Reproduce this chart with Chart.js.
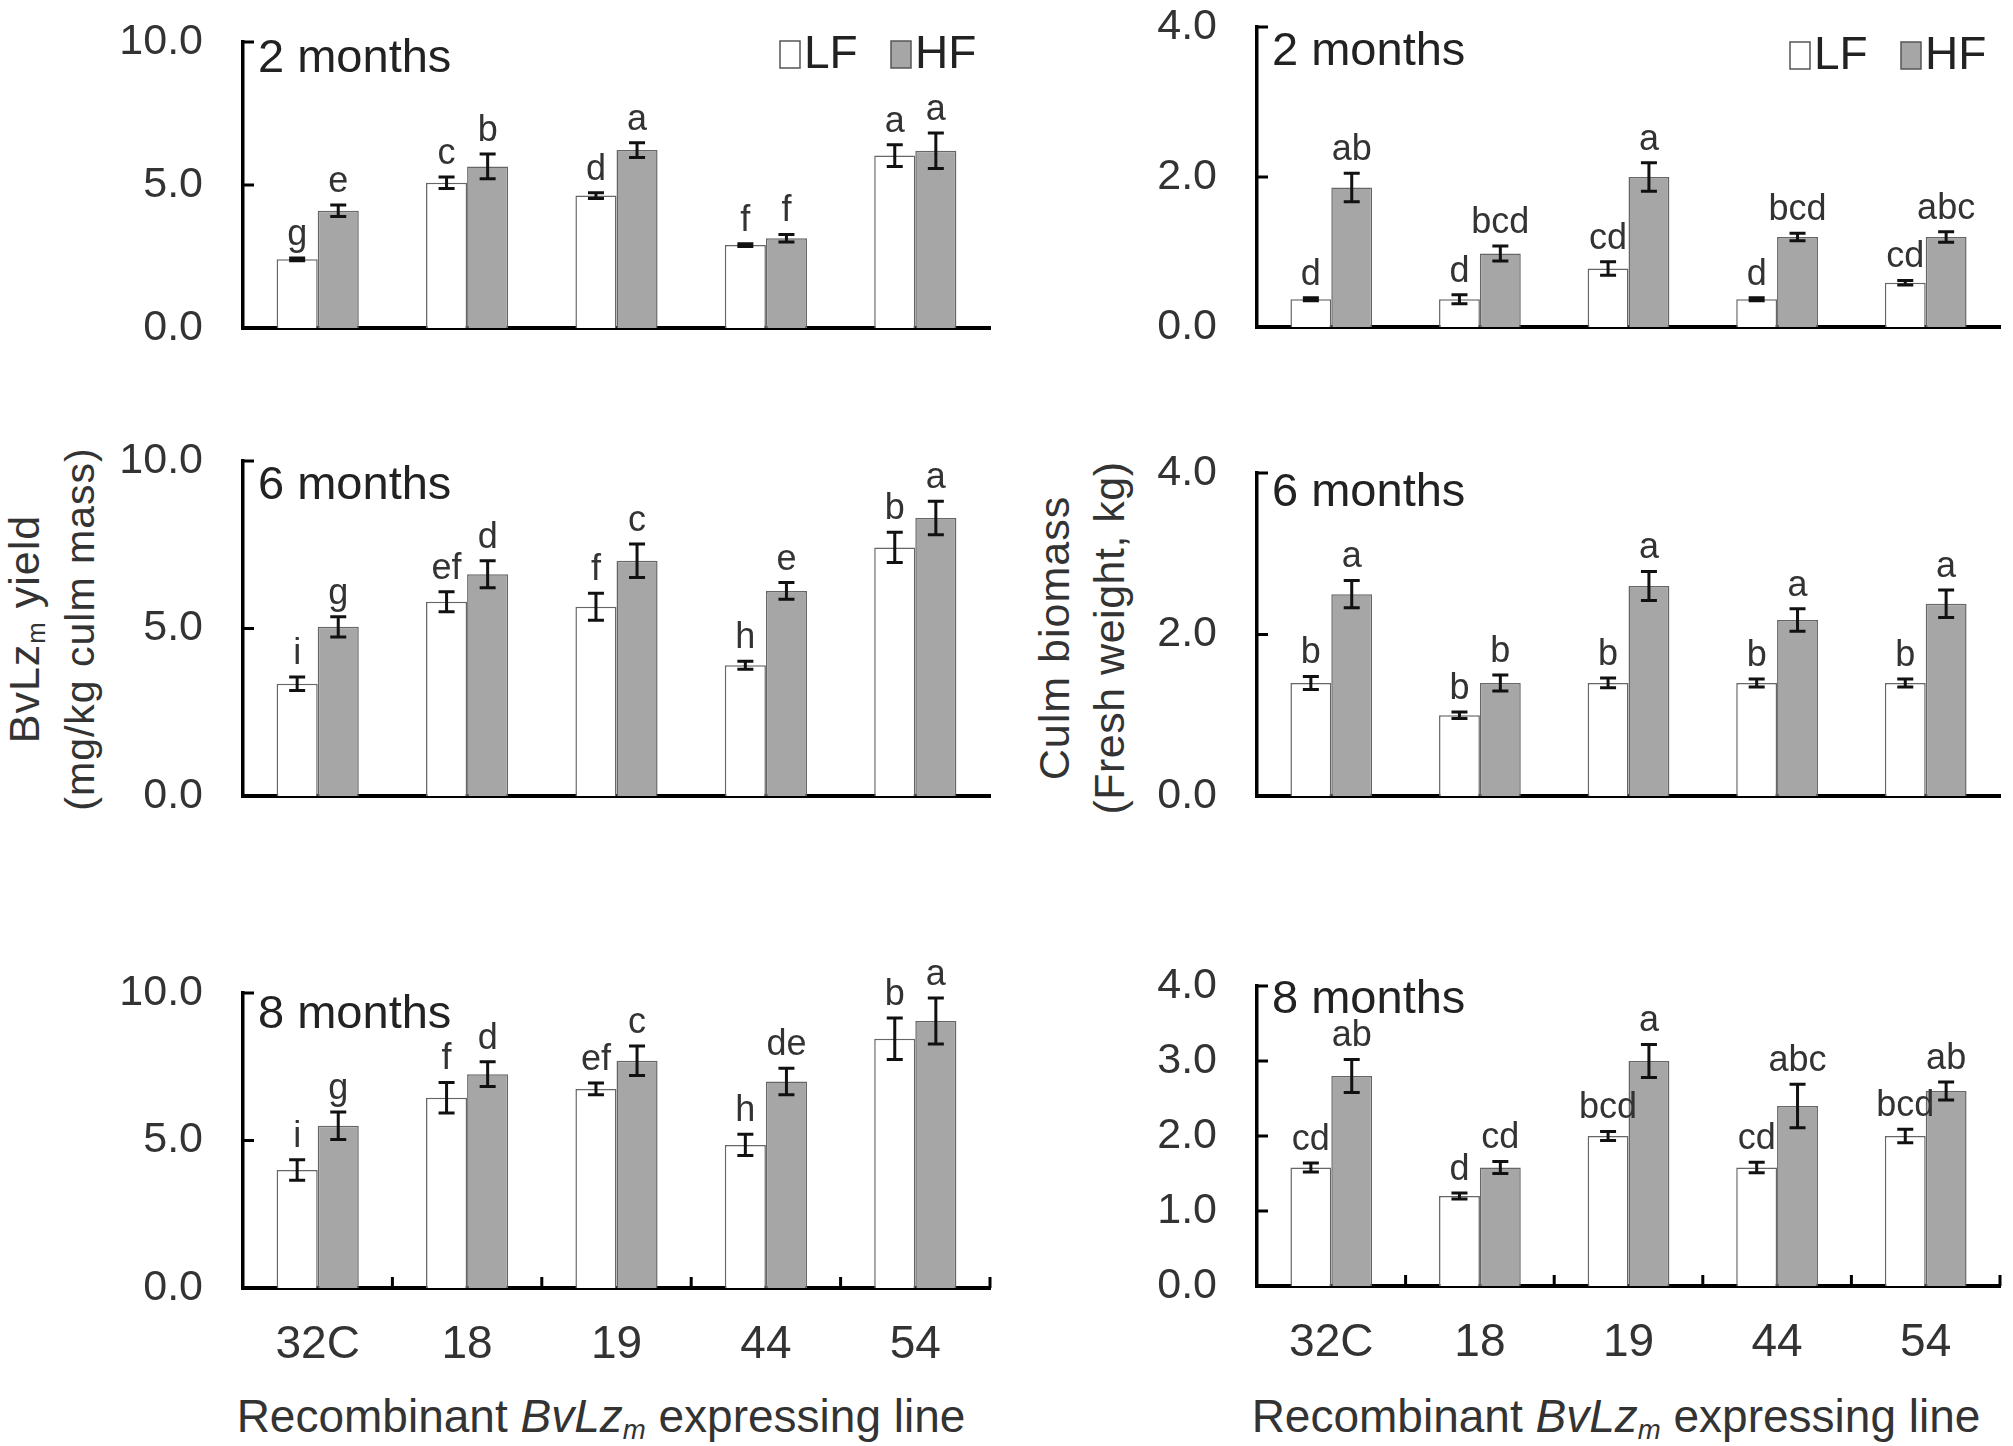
<!DOCTYPE html>
<html lang="en">
<head>
    <meta charset="UTF-8">
    <title>BvLzm yield and culm biomass</title>
    <style>
        body {
            margin: 0;
            background: #fff;
            font-family: "Liberation Sans", Arial, sans-serif;
            color: #333;
        }
        .page {
            position: relative;
            width: 2013px;
            height: 1446px;
            overflow: hidden;
        }
        .panel {
            position: absolute;
        }
        .ytitle {
            position: absolute;
            width: 600px;
            text-align: center;
            font-size: 43px;
            line-height: 55px;
            letter-spacing: 1px;
            transform: translate(-50%, -50%) rotate(-90deg);
            white-space: nowrap;
        }
        .ytitle .small { font-size: 41px; letter-spacing: 1px; }
        .ytitle .tight { letter-spacing: 0.5px; }
        .xtitle {
            position: absolute;
            width: 900px;
            text-align: center;
            font-size: 46px;
            line-height: 52px;
            transform: translate(-50%, -50%);
            white-space: nowrap;
        }
        sub { font-size: 0.6em; line-height: 0; vertical-align: -0.25em; }
    </style>
    <script src="https://cdn.jsdelivr.net/npm/chart.js"></script>
</head>
<body>
<div class="page" id="page">
    <div class="ytitle" style="left:52px; top:629px;">BvLz<sub>m</sub> yield<br><span class="small">(mg/kg culm mass)</span></div>
    <div class="ytitle" style="left:1082px; top:638px;">Culm biomass<br><span class="tight">(Fresh weight, kg)</span></div>
    <div class="xtitle" style="left:601px; top:1416px;">Recombinant <i>BvLz<sub>m</sub></i> expressing line</div>
    <div class="xtitle" style="left:1616px; top:1416px;">Recombinant <i>BvLz<sub>m</sub></i> expressing line</div>
</div>

<script>
    const lines = ['32C', '18', '19', '44', '54'];
    const seriesNames = ['LF', 'HF'];

    // BvLzm yield (mg/kg culm mass)
    const yield2mLF = [2.4, 5.08, 4.63, 2.9, 6.03];
    const yield2mLFErr = [0.05, 0.2, 0.1, 0.05, 0.38];
    const yield2mHF = [4.1, 5.65, 6.22, 3.14, 6.2];
    const yield2mHFErr = [0.2, 0.43, 0.26, 0.13, 0.62];
    const yield2mLFLetters = ['g', 'c', 'd', 'f', 'a'];
    const yield2mHFLetters = ['e', 'b', 'a', 'f', 'a'];

    const yield6mLF = [3.35, 5.8, 5.65, 3.9, 7.42];
    const yield6mLFErr = [0.2, 0.3, 0.4, 0.12, 0.45];
    const yield6mHF = [5.05, 6.62, 7.02, 6.12, 8.3];
    const yield6mHFErr = [0.3, 0.4, 0.5, 0.25, 0.5];
    const yield6mLFLetters = ['i', 'ef', 'f', 'h', 'b'];
    const yield6mHFLetters = ['g', 'd', 'c', 'e', 'a'];

    const yield8mLF = [4.0, 6.45, 6.75, 4.85, 8.45];
    const yield8mLFErr = [0.35, 0.52, 0.2, 0.36, 0.7];
    const yield8mHF = [5.5, 7.25, 7.7, 7.0, 9.05];
    const yield8mHFErr = [0.47, 0.42, 0.5, 0.45, 0.78];
    const yield8mLFLetters = ['i', 'f', 'ef', 'h', 'b'];
    const yield8mHFLetters = ['g', 'd', 'c', 'de', 'a'];

    // Culm biomass (fresh weight, kg)
    const biomass2mLF = [0.37, 0.37, 0.78, 0.37, 0.59];
    const biomass2mLFErr = [0.02, 0.06, 0.09, 0.02, 0.03];
    const biomass2mHF = [1.86, 0.98, 2.0, 1.2, 1.2];
    const biomass2mHFErr = [0.19, 0.1, 0.19, 0.05, 0.07];
    const biomass2mLFLetters = ['d', 'd', 'cd', 'd', 'cd'];
    const biomass2mHFLetters = ['ab', 'bcd', 'a', 'bcd', 'abc'];

    const biomass6mLF = [1.4, 1.0, 1.4, 1.4, 1.4];
    const biomass6mLFErr = [0.08, 0.04, 0.06, 0.05, 0.05];
    const biomass6mHF = [2.5, 1.4, 2.6, 2.18, 2.38];
    const biomass6mHFErr = [0.17, 0.1, 0.18, 0.14, 0.17];
    const biomass6mLFLetters = ['b', 'b', 'b', 'b', 'b'];
    const biomass6mHFLetters = ['a', 'b', 'a', 'a', 'a'];

    const biomass8mLF = [1.58, 1.2, 2.0, 1.58, 2.0];
    const biomass8mLFErr = [0.06, 0.04, 0.06, 0.07, 0.09];
    const biomass8mHF = [2.8, 1.58, 3.0, 2.4, 2.6];
    const biomass8mHFErr = [0.22, 0.08, 0.22, 0.29, 0.12];
    const biomass8mLFLetters = ['cd', 'd', 'bcd', 'cd', 'bcd'];
    const biomass8mHFLetters = ['ab', 'cd', 'a', 'abc', 'ab'];

    const FONT = '"Liberation Sans", Arial, sans-serif';
    const TEXT = '#333';

    // ax/ay/ar/ab = chart area edges on the page
    const panels = [
        { period: '2 months', lf: yield2mLF, lfErr: yield2mLFErr, hf: yield2mHF, hfErr: yield2mHFErr,
          lfLet: yield2mLFLetters, hfLet: yield2mHFLetters, max: 10, step: 5,
          ax: 243, ay: 42, ar: 990, ab: 328, labelDy: 17, legendDy: 12, legend: true, xlabels: false },
        { period: '2 months', lf: biomass2mLF, lfErr: biomass2mLFErr, hf: biomass2mHF, hfErr: biomass2mHFErr,
          lfLet: biomass2mLFLetters, hfLet: biomass2mHFLetters, max: 4, step: 2,
          ax: 1257, ay: 27, ar: 2000, ab: 327, labelDy: 25, legendDy: 28, legend: true, xlabels: false },
        { period: '6 months', lf: yield6mLF, lfErr: yield6mLFErr, hf: yield6mHF, hfErr: yield6mHFErr,
          lfLet: yield6mLFLetters, hfLet: yield6mHFLetters, max: 10, step: 5,
          ax: 243, ay: 461, ar: 990, ab: 796, labelDy: 25, legend: false, xlabels: false },
        { period: '6 months', lf: biomass6mLF, lfErr: biomass6mLFErr, hf: biomass6mHF, hfErr: biomass6mHFErr,
          lfLet: biomass6mLFLetters, hfLet: biomass6mHFLetters, max: 4, step: 2,
          ax: 1257, ay: 473, ar: 2000, ab: 796, labelDy: 20, legend: false, xlabels: false },
        { period: '8 months', lf: yield8mLF, lfErr: yield8mLFErr, hf: yield8mHF, hfErr: yield8mHFErr,
          lfLet: yield8mLFLetters, hfLet: yield8mHFLetters, max: 10, step: 5,
          ax: 243, ay: 993, ar: 990, ab: 1288, labelDy: 22, legend: false, xlabels: true },
        { period: '8 months', lf: biomass8mLF, lfErr: biomass8mLFErr, hf: biomass8mHF, hfErr: biomass8mHFErr,
          lfLet: biomass8mLFLetters, hfLet: biomass8mHFLetters, max: 4, step: 1,
          ax: 1257, ay: 986, ar: 2000, ab: 1286, labelDy: 14, legend: false, xlabels: true }
    ];

    // error bars, letters, inward ticks, period label, legend
    const annotate = {
        id: 'annotate',
        afterDraw(chart) {
            const ctx = chart.ctx;
            const y = chart.scales.y;
            const x = chart.scales.x;
            const area = chart.chartArea;
            const p = chart.options.plugins.annotate;

            ctx.save();
            chart.data.datasets.forEach((ds, i) => {
                chart.getDatasetMeta(i).data.forEach((bar, j) => {
                    const v = ds.data[j], e = ds.errors[j];
                    const top = y.getPixelForValue(v + e);
                    const bot = y.getPixelForValue(v - e);
                    ctx.strokeStyle = '#111';
                    ctx.lineWidth = 3;
                    ctx.beginPath();
                    ctx.moveTo(bar.x, top); ctx.lineTo(bar.x, bot);
                    ctx.moveTo(bar.x - 8, top); ctx.lineTo(bar.x + 8, top);
                    ctx.moveTo(bar.x - 8, bot); ctx.lineTo(bar.x + 8, bot);
                    ctx.stroke();
                    ctx.fillStyle = TEXT;
                    ctx.font = '36px ' + FONT;
                    ctx.textAlign = 'center';
                    ctx.textBaseline = 'bottom';
                    ctx.fillText(ds.letters[j], bar.x, top - 5);
                });
            });

            // y ticks pointing inside
            ctx.strokeStyle = '#000';
            ctx.lineWidth = 3;
            y.ticks.forEach(t => {
                const py = y.getPixelForValue(t.value);
                ctx.beginPath();
                ctx.moveTo(area.left, py);
                ctx.lineTo(area.left + 11, py);
                ctx.stroke();
            });

            // x ticks between categories (bottom row only)
            if (p.xlabels) {
                const step = x.getPixelForValue(1) - x.getPixelForValue(0);
                for (let k = 0; k < lines.length; k++) {
                    const px = x.getPixelForValue(k) + step / 2;
                    ctx.beginPath();
                    ctx.moveTo(px, area.bottom);
                    ctx.lineTo(px, area.bottom - 11);
                    ctx.stroke();
                }
            }

            ctx.fillStyle = '#222';
            ctx.font = '47px ' + FONT;
            ctx.textAlign = 'left';
            ctx.textBaseline = 'middle';
            ctx.fillText(p.period, area.left + 15, area.top + p.labelDy);

            if (p.legend) {
                let lx = area.right - 210;
                const ly = area.top + p.legendDy;
                chart.data.datasets.forEach(ds => {
                    ctx.fillStyle = ds.backgroundColor;
                    ctx.strokeStyle = '#555';
                    ctx.lineWidth = 1.5;
                    ctx.fillRect(lx, ly - 13, 20, 27);
                    ctx.strokeRect(lx, ly - 13, 20, 27);
                    ctx.fillStyle = '#222';
                    ctx.font = '46px ' + FONT;
                    ctx.fillText(ds.label, lx + 24, ly + 1);
                    lx += 111;
                });
            }
            ctx.restore();
        }
    };

    const page = document.getElementById('page');
    const padL = 140, padT = 72, padR = 8;

    panels.forEach(p => {
        const xh = p.xlabels ? 100 : 72;
        const div = document.createElement('div');
        div.className = 'panel';
        div.style.left = (p.ax - padL) + 'px';
        div.style.top = (p.ay - padT) + 'px';
        div.style.width = (p.ar - p.ax + padL + padR) + 'px';
        div.style.height = (p.ab - p.ay + padT + xh) + 'px';
        const canvas = document.createElement('canvas');
        div.appendChild(canvas);
        page.appendChild(div);

        new Chart(canvas, {
            type: 'bar',
            data: {
                labels: lines,
                datasets: [
                    { label: seriesNames[0], data: p.lf, errors: p.lfErr, letters: p.lfLet,
                      backgroundColor: '#ffffff', borderColor: '#666', borderWidth: 1.5 },
                    { label: seriesNames[1], data: p.hf, errors: p.hfErr, letters: p.hfLet,
                      backgroundColor: '#a6a6a6', borderColor: '#666', borderWidth: 1.5 }
                ]
            },
            options: {
                responsive: true,
                maintainAspectRatio: false,
                animation: false,
                layout: { padding: { top: padT, right: padR, left: 0, bottom: 0 } },
                datasets: { bar: { categoryPercentage: 0.55, barPercentage: 1.0 } },
                scales: {
                    x: {
                        z: 1,
                        grid: { display: false, drawTicks: false },
                        border: { display: true, color: '#000', width: 4 },
                        ticks: {
                            display: p.xlabels,
                            padding: 30,
                            color: TEXT,
                            font: { family: FONT, size: 46 }
                        },
                        afterFit: s => { s.height = xh; }
                    },
                    y: {
                        z: 1,
                        min: 0,
                        max: p.max,
                        grid: { display: false, drawTicks: false },
                        border: { display: true, color: '#000', width: 3.5 },
                        ticks: {
                            stepSize: p.step,
                            padding: 40,
                            color: TEXT,
                            font: { family: FONT, size: 43 },
                            callback: v => v.toFixed(1)
                        },
                        afterFit: s => { s.width = padL; }
                    }
                },
                plugins: {
                    legend: { display: false },
                    tooltip: { enabled: false },
                    annotate: { period: p.period, labelDy: p.labelDy, legend: p.legend,
                                legendDy: p.legendDy, xlabels: p.xlabels }
                }
            },
            plugins: [annotate]
        });
    });
</script>
</body>
</html>
